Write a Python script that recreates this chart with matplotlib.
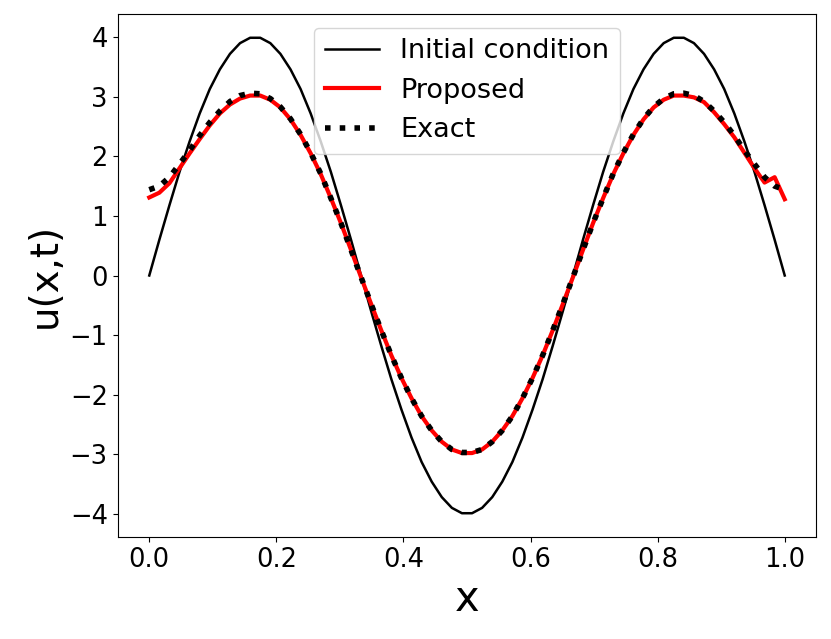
import numpy as np
import matplotlib
matplotlib.use("Agg")
import matplotlib.pyplot as plt

n_points = 64
x = np.linspace(0.0, 1.0, n_points)

initial = [0.00, 0.60, 1.18, 1.74, 2.25, 2.72, 3.13, 3.46, 3.72, 3.90, 3.99,
           3.99, 3.90, 3.72, 3.46, 3.13, 2.72, 2.25, 1.74, 1.18, 0.60, 0.00,
           -0.60, -1.18, -1.74, -2.25, -2.72, -3.13, -3.46, -3.72, -3.90, -3.99,
           -3.99, -3.90, -3.72, -3.46, -3.13, -2.72, -2.25, -1.74, -1.18, -0.60, 0.00,
           0.60, 1.18, 1.74, 2.25, 2.72, 3.13, 3.46, 3.72, 3.90, 3.99,
           3.99, 3.90, 3.72, 3.46, 3.13, 2.72, 2.25, 1.74, 1.18, 0.60, 0.00]

proposed = [1.31, 1.39, 1.55, 1.80, 2.05, 2.29, 2.52, 2.72, 2.87, 2.97, 3.02, 3.02, 2.95, 2.82,
            2.62, 2.36, 2.05, 1.70, 1.30, 0.88, 0.43, -0.03, -0.48, -0.92, -1.34, -1.72,
            -2.06, -2.36, -2.60, -2.79, -2.92, -2.98,
            -2.98, -2.92, -2.79, -2.60, -2.36, -2.06, -1.72, -1.34, -0.92, -0.48, -0.03,
            0.43, 0.88, 1.30, 1.70, 2.05, 2.36, 2.62,
            2.82, 2.95, 3.02, 3.02, 2.99, 2.91, 2.74, 2.54, 2.32, 2.06, 1.80, 1.56, 1.65, 1.28]

exact = [1.44, 1.50, 1.65, 1.87, 2.10, 2.35, 2.57, 2.76, 2.92, 3.02, 3.06, 3.05, 2.97, 2.83,
         2.63, 2.37, 2.06, 1.71, 1.30, 0.88, 0.43, -0.03, -0.48, -0.92, -1.34, -1.72,
         -2.06, -2.36, -2.60, -2.79, -2.92, -2.97,
         -2.97, -2.92, -2.79, -2.60, -2.36, -2.06, -1.72, -1.34, -0.92, -0.48, -0.03,
         0.43, 0.88, 1.30, 1.71, 2.06, 2.37, 2.63,
         2.83, 2.97, 3.05, 3.06, 3.02, 2.92, 2.76, 2.57, 2.35, 2.10, 1.87, 1.65, 1.50, 1.44]

fig = plt.figure(figsize=(8.31, 6.39), dpi=100)
ax = fig.add_axes([117.5 / 831, (639 - 537) / 639, 699 / 831, 523 / 639])

ax.plot(x, initial, color="black", lw=1.8, label="Initial condition")
ax.plot(x, proposed, color="red", lw=3, label="Proposed")
ax.plot(x, exact, color="black", lw=4, ls=":", label="Exact")

ax.set_xlabel("x", fontsize=30)
ax.set_ylabel("u(x,t)", fontsize=28)
ax.tick_params(labelsize=18.5)
ax.legend(loc="upper center", fontsize=19.5)

fig.savefig("out.png", dpi=100)
